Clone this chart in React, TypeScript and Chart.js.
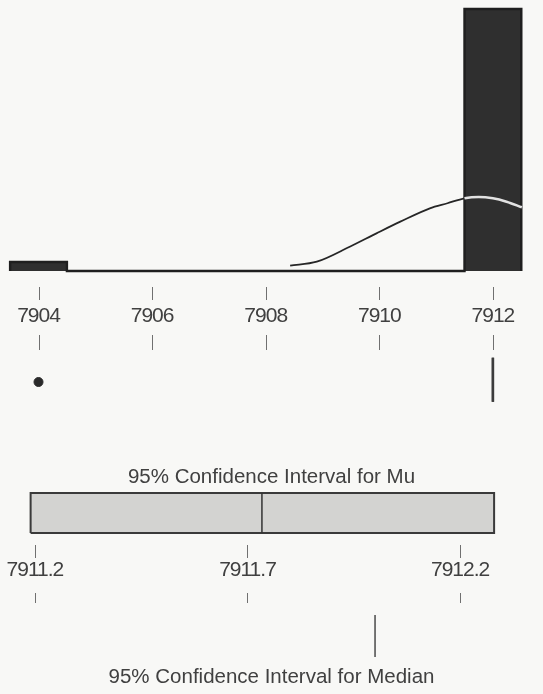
import React, { useEffect, useRef } from "react";
import { Chart, registerables } from "chart.js";

Chart.register(...registerables);

// ---------- data ----------
const binCenters = [7904, 7905, 7906, 7907, 7908, 7909, 7910, 7911, 7912];
const binCounts = [1, 0, 0, 0, 0, 0, 0, 0, 29];
const binWidth = 1;
const curveX = [7908.43, 7908.9, 7909.48, 7909.95, 7910.37, 7910.89, 7911.2, 7911.5, 7911.75, 7912.0, 7912.24, 7912.51];
const curveY = [0.59, 1.03, 2.69, 4.17, 5.46, 6.94, 7.5, 8.05, 8.2, 8.05, 7.67, 7.05];
const histTicks = [7904, 7906, 7908, 7910, 7912];
const histRange = [7903.322, 7912.882];

const boxQuartiles = [7912, 7912, 7912]; // q1, median, q3
const boxOutliers = [7904];

const muTitle = "95% Confidence Interval for Mu";
const muCI = [7911.19, 7912.28];
const muMean = 7911.734;
const ciTicks = [7911.2, 7911.7, 7912.2];
const ciRange = [7911.118, 7912.395];

const medianTitle = "95% Confidence Interval for Median";
const medianCI = [7912.0, 7912.0];

// ---------- styles ----------
const FONT = "'Liberation Sans', Arial, sans-serif";
const TEXT = "#404040";
const BG = "#f8f8f6";

const rect = (lo: number, hi: number) => [
  { x: lo, y: 0 },
  { x: lo, y: 1 },
  { x: hi, y: 1 },
  { x: hi, y: 0 },
  { x: lo, y: 0 },
];

const tickMarks = (vals: number[], segs: number[][]) => ({
  id: "tickMarks",
  afterDraw(chart: any) {
    const s = chart.scales.x;
    const ctx = chart.ctx;
    const b = chart.chartArea.bottom;
    ctx.save();
    ctx.strokeStyle = "#707070";
    ctx.lineWidth = 1;
    vals.forEach((v) => {
      const px = Math.round(s.getPixelForValue(v)) + 0.5;
      segs.forEach(([a, c]) => {
        ctx.beginPath();
        ctx.moveTo(px, b + a);
        ctx.lineTo(px, b + c);
        ctx.stroke();
      });
    });
    ctx.restore();
  },
});

// normal spacing for titles (drawn before datasets), tight spacing for tick labels (drawn after)
const tightTicks = {
  id: "tightTicks",
  beforeDraw(chart: any) {
    chart.ctx.letterSpacing = "0px";
  },
  afterDatasetsDraw(chart: any) {
    chart.ctx.letterSpacing = "-1px";
  },
};

const baseOpts = (xr: number[], ymin: number, ymax: number) => ({
  responsive: false,
  animation: false,
  devicePixelRatio: 1,
  layout: { padding: 0, autoPadding: false },
  plugins: { legend: { display: false }, tooltip: { enabled: false }, title: { display: false } },
  elements: { point: { radius: 0 } },
  scales: {
    x: { type: "linear", display: false, min: xr[0], max: xr[1] },
    y: { type: "linear", display: false, min: ymin, max: ymax },
  },
});

const axisX = (xr: number[], ticks: number[], height: number, gap: number) => ({
  type: "linear",
  min: xr[0],
  max: xr[1],
  afterBuildTicks: (s: any) => {
    s.ticks = ticks.map((v) => ({ value: v }));
  },
  afterFit: (s: any) => {
    s.height = height;
  },
  grid: { display: true, drawOnChartArea: false, drawTicks: true, tickLength: gap, tickColor: "rgba(0,0,0,0)" },
  border: { display: false },
  ticks: {
    z: 1,
    padding: 0,
    color: TEXT,
    font: { family: FONT, size: 21 },
    maxRotation: 0,
    autoSkip: false,
    callback: (v: any) => String(v),
  },
});

// ---------- chart configs ----------
function histConfig() {
  const histPts: { x: number; y: number }[] = [{ x: binCenters[0] - binWidth / 2, y: 0 }];
  binCenters.forEach((c, i) => {
    histPts.push({ x: c - binWidth / 2, y: binCounts[i] });
    histPts.push({ x: c + binWidth / 2, y: binCounts[i] });
  });
  histPts.push({ x: binCenters[binCenters.length - 1] + binWidth / 2, y: 0 });
  const darkStart = binCenters[binCenters.length - 1] - binWidth / 2 - 0.02;
  const curvePts = curveX.map((x, i) => ({ x, y: curveY[i] }));
  const opts: any = baseOpts(histRange, 0, 30);
  opts.scales.x = axisX(histRange, histTicks, 89, 32.4);
  return {
    type: "line",
    data: {
      datasets: [
        {
          data: curvePts,
          borderColor: "#262626",
          borderWidth: 1.8,
          pointRadius: 0,
          tension: 0.4,
          cubicInterpolationMode: "monotone",
          fill: false,
          order: 0,
          segment: {
            borderColor: (ctx: any) => (ctx.p0.parsed.x >= darkStart ? "#e2e2e2" : "#262626"),
            borderWidth: (ctx: any) => (ctx.p0.parsed.x >= darkStart ? 2.6 : 1.8),
          },
        },
        {
          data: histPts,
          borderColor: "#1f1f1f",
          backgroundColor: "#2f2f2f",
          borderWidth: 2.4,
          pointRadius: 0,
          fill: "origin",
          clip: false,
          order: 1,
        },
      ],
    },
    options: opts,
    plugins: [tightTicks, tickMarks(histTicks, [[16, 29], [64, 79]])],
  };
}

function boxConfig() {
  const [q1, med, q3] = boxQuartiles;
  const opts: any = baseOpts(histRange, 0, 1);
  return {
    type: "line",
    data: {
      datasets: [
        {
          data: rect(q1, q3).map((p) => ({ x: p.x, y: 0.19 + p.y * 0.69 })),
          borderColor: "#3c3c3c",
          borderWidth: 2.4,
          pointRadius: 0,
          fill: false,
        },
        {
          data: [{ x: med, y: 0.19 }, { x: med, y: 0.88 }],
          borderColor: "#3c3c3c",
          borderWidth: 2.4,
          pointRadius: 0,
          fill: false,
        },
        {
          type: "scatter",
          data: boxOutliers.map((x) => ({ x, y: 0.5 })),
          pointRadius: 4.5,
          pointBackgroundColor: "#2a2a2a",
          pointBorderColor: "#2a2a2a",
          showLine: false,
        },
      ],
    },
    options: opts,
  };
}

function muConfig() {
  const opts: any = baseOpts(ciRange, -0.05, 1.05);
  opts.scales.x = axisX(ciRange, ciTicks, 80, 22.4);
  opts.plugins.title = {
    display: true,
    text: muTitle,
    color: TEXT,
    font: { family: FONT, size: 20.5, weight: "normal" },
    padding: { top: 9.7, bottom: 1.7 },
  };
  return {
    type: "line",
    data: {
      datasets: [
        {
          data: [{ x: muMean, y: 0 }, { x: muMean, y: 1 }],
          borderColor: "#333333",
          borderWidth: 1.5,
          pointRadius: 0,
          fill: false,
          order: 0,
        },
        {
          data: rect(muCI[0], muCI[1]),
          borderColor: "#3a3a3a",
          borderWidth: 2,
          pointRadius: 0,
          fill: false,
          order: 1,
        },
        {
          data: [{ x: muCI[0], y: 1 }, { x: muCI[1], y: 1 }],
          borderWidth: 0,
          borderColor: "rgba(0,0,0,0)",
          backgroundColor: "#d3d3d1",
          pointRadius: 0,
          fill: { value: 0 },
          order: 2,
        },
      ],
    },
    options: opts,
    plugins: [tightTicks, tickMarks(ciTicks, [[10, 23], [58, 68]])],
  };
}

function medianConfig() {
  const opts: any = baseOpts(ciRange, -0.048, 1.048);
  opts.layout = { padding: { top: 3 }, autoPadding: false };
  opts.plugins.title = {
    display: true,
    position: "bottom",
    text: medianTitle,
    color: TEXT,
    font: { family: FONT, size: 20.5, weight: "normal" },
    padding: { top: 5.7, bottom: 4.7 },
  };
  return {
    type: "line",
    data: {
      datasets: [
        {
          data: rect(medianCI[0], medianCI[1]),
          borderColor: "#555555",
          borderWidth: 1.6,
          pointRadius: 0,
          fill: false,
        },
      ],
    },
    options: opts,
  };
}

function ChartBox({ top, height, make }: { top: number; height: number; make: () => any }) {
  const ref = useRef<HTMLCanvasElement | null>(null);
  useEffect(() => {
    const c = new Chart(ref.current as HTMLCanvasElement, make());
    return () => c.destroy();
  }, []);
  return (
    <div style={{ position: "absolute", left: 0, top, width: 543, height }}>
      <canvas ref={ref} width={543} height={height} style={{ width: 543, height, display: "block" }} />
    </div>
  );
}

export default function App() {
  return (
    <div style={{ position: "absolute", left: 0, top: 0, width: 543, height: 694, background: BG, overflow: "hidden" }}>
      <ChartBox top={0} height={360} make={histConfig} />
      <ChartBox top={350} height={64} make={boxConfig} />
      <ChartBox top={455} height={160} make={muConfig} />
      <ChartBox top={610} height={84} make={medianConfig} />
    </div>
  );
}
